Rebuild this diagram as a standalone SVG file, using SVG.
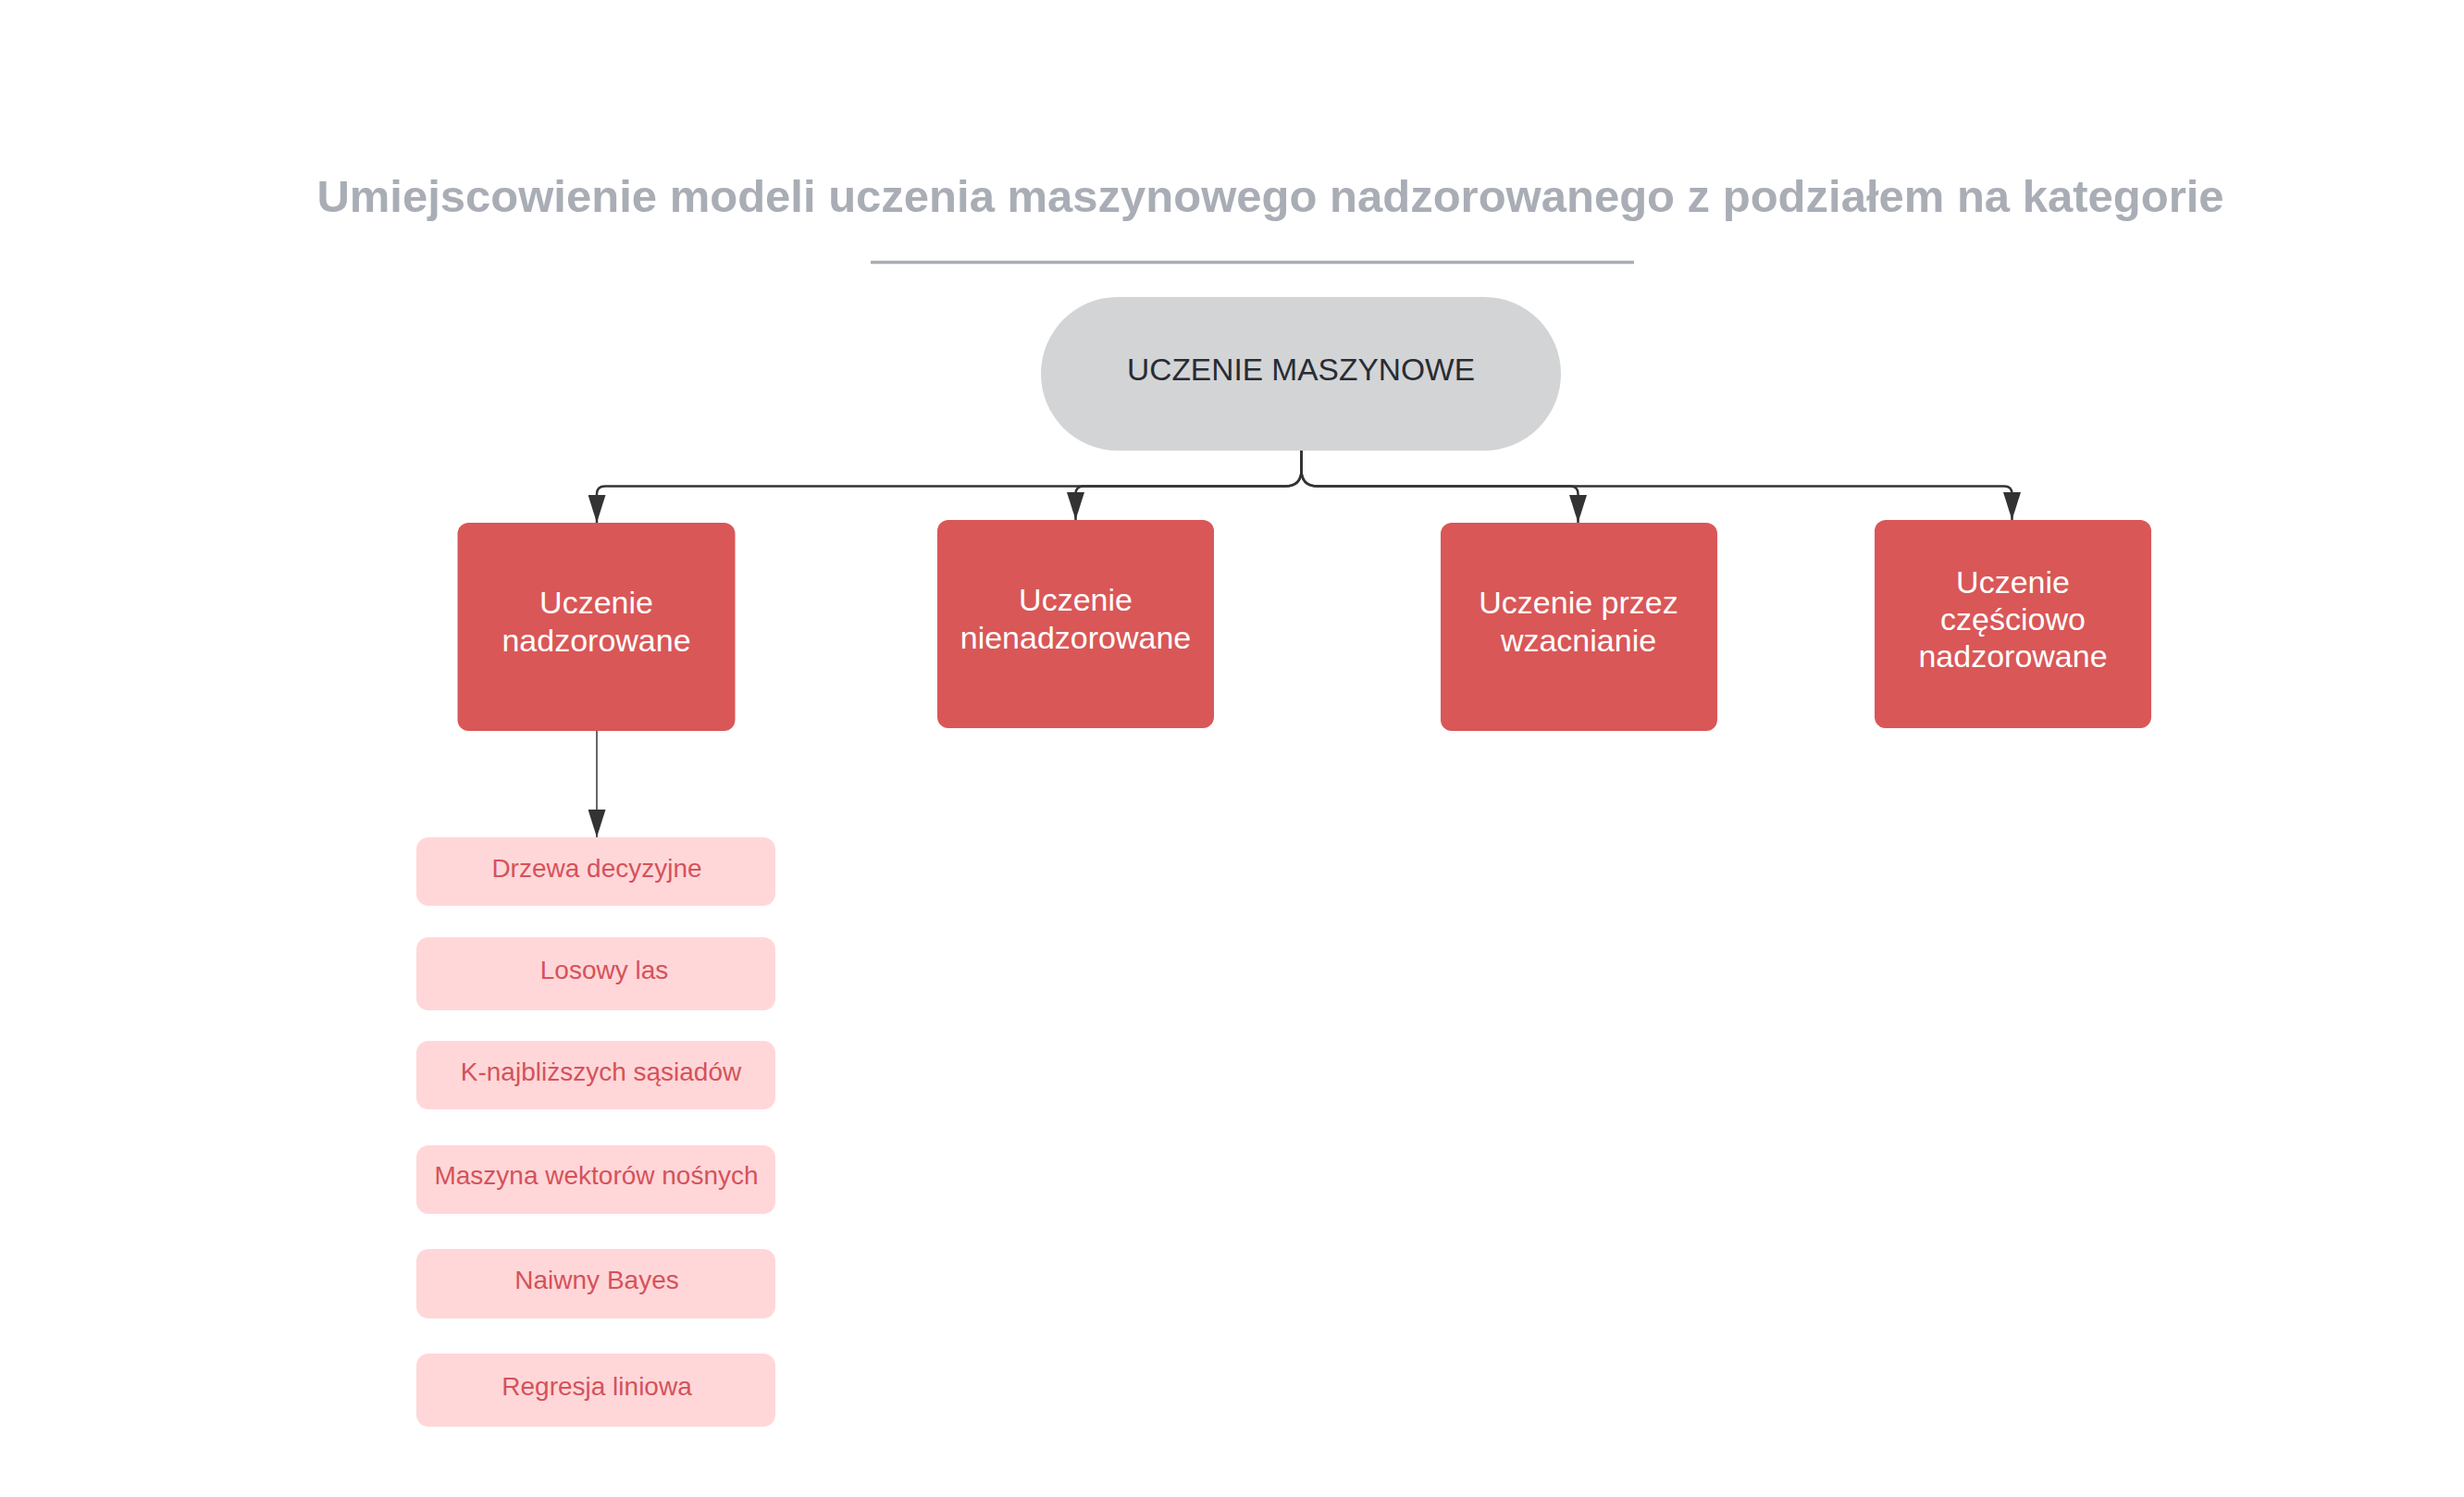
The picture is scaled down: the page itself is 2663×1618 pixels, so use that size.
<svg xmlns="http://www.w3.org/2000/svg" width="2663" height="1618" viewBox="0 0 2663 1618">
<defs>
<style>
.title{font-family:"Liberation Sans",Arial,sans-serif;font-weight:bold;font-size:49px;fill:#A9ADB5}
.root{fill:#D3D4D6}
.rootText{font-family:"Liberation Sans",Arial,sans-serif;font-size:33.5px;fill:#282C33}
.cat{fill:#D95757}
.catText{font-family:"Liberation Sans",Arial,sans-serif;font-size:34px;fill:#FFFFFF}
.item{fill:#FFD7D9}
.itemText{font-family:"Liberation Sans",Arial,sans-serif;font-size:28px;fill:#D5525A}
.conn{fill:none;stroke:#333333;stroke-width:2.5}
.thin{fill:none;stroke:#333333;stroke-width:1.5}
</style>
<marker id="arrow" markerUnits="userSpaceOnUse" viewBox="0 0 30 19" refX="30" refY="9.5" markerWidth="30" markerHeight="19" orient="auto">
<path d="M0,0 L30,9.5 L0,19 Z" fill="#333333"/>
</marker>
</defs>
<rect width="2663" height="1618" fill="#FFFFFF"/>
<g id="title">
<text class="title" x="1373" y="229" text-anchor="middle">Umiejscowienie modeli uczenia maszynowego nadzorowanego z podziałem na kategorie</text>
<line x1="941" y1="283.5" x2="1766" y2="283.5" stroke="#A9ADB5" stroke-width="3.5"/>
</g>
<g id="connectors">
<path class="conn" d="M1406.5,487 L1406.5,508 Q1406.5,525.5 1389,525.5 L654,525.5 Q645,525.5 645,534 L645,565" marker-end="url(#arrow)"/>
<path class="conn" d="M1406.5,487 L1406.5,508 Q1406.5,525.5 1389,525.5 L1171,525.5 Q1162.5,525.5 1162.5,534 L1162.5,562" marker-end="url(#arrow)"/>
<path class="conn" d="M1406.5,487 L1406.5,508 Q1406.5,525.5 1424,525.5 L1697,525.5 Q1705.5,525.5 1705.5,534 L1705.5,565" marker-end="url(#arrow)"/>
<path class="conn" d="M1406.5,487 L1406.5,508 Q1406.5,525.5 1424,525.5 L2166,525.5 Q2174.5,525.5 2174.5,534 L2174.5,562" marker-end="url(#arrow)"/>
<path class="thin" d="M645,790 L645,905" marker-end="url(#arrow)"/>
</g>
<g id="root">
<rect class="root" x="1125" y="321" width="562" height="166" rx="83" ry="83"/>
<text class="rootText" x="1406" y="411" text-anchor="middle">UCZENIE MASZYNOWE</text>
</g>
<g id="cat1">
<rect class="cat" x="494.5" y="565" width="300" height="225" rx="12" ry="12"/>
<text class="catText" text-anchor="middle"><tspan x="644.5" y="663">Uczenie</tspan><tspan x="644.5" y="704">nadzorowane</tspan></text>
</g>
<g id="cat2">
<rect class="cat" x="1013" y="562" width="299" height="225" rx="12" ry="12"/>
<text class="catText" text-anchor="middle"><tspan x="1162.5" y="660">Uczenie</tspan><tspan x="1162.5" y="701">nienadzorowane</tspan></text>
</g>
<g id="cat3">
<rect class="cat" x="1557" y="565" width="299" height="225" rx="12" ry="12"/>
<text class="catText" text-anchor="middle"><tspan x="1706" y="663">Uczenie przez</tspan><tspan x="1706" y="704">wzacnianie</tspan></text>
</g>
<g id="cat4">
<rect class="cat" x="2026" y="562" width="299" height="225" rx="12" ry="12"/>
<text class="catText" text-anchor="middle"><tspan x="2175.5" y="641">Uczenie</tspan><tspan x="2175.5" y="681">częściowo</tspan><tspan x="2175.5" y="721">nadzorowane</tspan></text>
</g>
<g id="item1">
<rect class="item" x="450" y="905" width="388" height="74" rx="13" ry="13"/>
<text class="itemText" x="645" y="948" text-anchor="middle">Drzewa decyzyjne</text>
</g>
<g id="item2">
<rect class="item" x="450" y="1013" width="388" height="79" rx="13" ry="13"/>
<text class="itemText" x="653" y="1058" text-anchor="middle">Losowy las</text>
</g>
<g id="item3">
<rect class="item" x="450" y="1125" width="388" height="74" rx="13" ry="13"/>
<text class="itemText" x="649.5" y="1168" text-anchor="middle">K-najbliższych sąsiadów</text>
</g>
<g id="item4">
<rect class="item" x="450" y="1238" width="388" height="74" rx="13" ry="13"/>
<text class="itemText" x="644.5" y="1280" text-anchor="middle">Maszyna wektorów nośnych</text>
</g>
<g id="item5">
<rect class="item" x="450" y="1350" width="388" height="75" rx="13" ry="13"/>
<text class="itemText" x="645" y="1393" text-anchor="middle">Naiwny Bayes</text>
</g>
<g id="item6">
<rect class="item" x="450" y="1463" width="388" height="79" rx="13" ry="13"/>
<text class="itemText" x="645" y="1508" text-anchor="middle">Regresja liniowa</text>
</g>
</svg>
